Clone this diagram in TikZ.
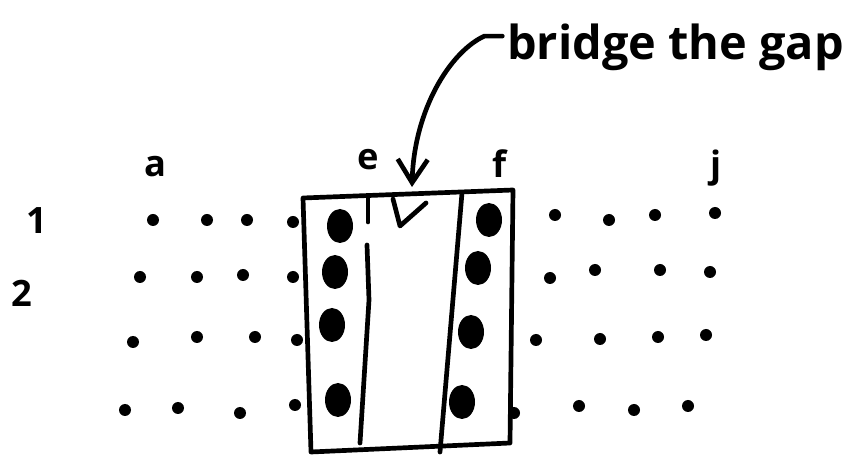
\documentclass[tikz,border=0pt]{standalone}
\usepackage{fontspec}
\setmainfont{Open Sans}
\usetikzlibrary{arrows.meta}

\begin{document}
\begin{tikzpicture}[x=0.03cm, y=-0.03cm,
    pen/.style={line width=4pt, line cap=round, line join=round},
    lbl/.style={font=\fontsize{31}{33}\selectfont\bfseries, inner sep=0pt, anchor=base},
    note/.style={font=\fontsize{40}{44}\selectfont\bfseries, inner sep=0pt, anchor=base west},
    dot/.style={fill=black},
    ar/.style={pen, -{Straight Barb[length=7mm,width=9mm,line width=4pt]}}]
    \useasboundingbox (0,0) rectangle (858,458);
    % column and row labels
    \node[lbl] (colA) at (155,177) {a};
    \node[lbl] (colE) at (368,170) {e};
    \node[lbl] (colF) at (500,178) {f};
    \node[lbl] (colJ) at (716,178) {j};
    \node[lbl] (row1) at (37,234) {1};
    \node[lbl] (row2) at (22,307) {2};
    % small dots
    \foreach \x/\y in {153/220,207/220,247/220,293/222,
                       140/277,197/277,243/275,293/277,
                       133/342,197/337,255/337,297/340,
                       125/410,178/408,240/413,295/405,
                       555/215,609/220,655/215,715/213,
                       550/278,595/270,660/270,710/272,
                       536/340,600/339,658/337,706/335,
                       514/413,579/406,634/410,688/406}
      \fill[dot] (\x,\y) circle[radius=6];
    % big dots in columns e and f
    \foreach \x/\y in {340/226,335/272,332/325,338/400,
                       489/220,478/268,471/332,462/402}
      \fill[dot] (\x,\y) ellipse[x radius=13, y radius=17];
    % the box
    \draw[pen] (303,198) -- (513,190) -- (510,443) -- (311,452) -- cycle;
    \draw[pen] (368,198) -- (368,222);
    \draw[pen] (367,245) -- (369,300) -- (360,443);
    \draw[pen] (462,193) -- (440,452);
    \draw[pen] (393,199) -- (400,226) -- (426,203);
    % note and arrow
    \node[note] (gap) at (507,60) {bridge the gap};
    \coordinate (gapTop) at (412,187);
    \draw[ar] ([xshift=-4pt,yshift=10pt]gap.west) -- +(-18,0) .. controls (450,52) and (414,110) .. (gapTop);
\end{tikzpicture}
\end{document}
